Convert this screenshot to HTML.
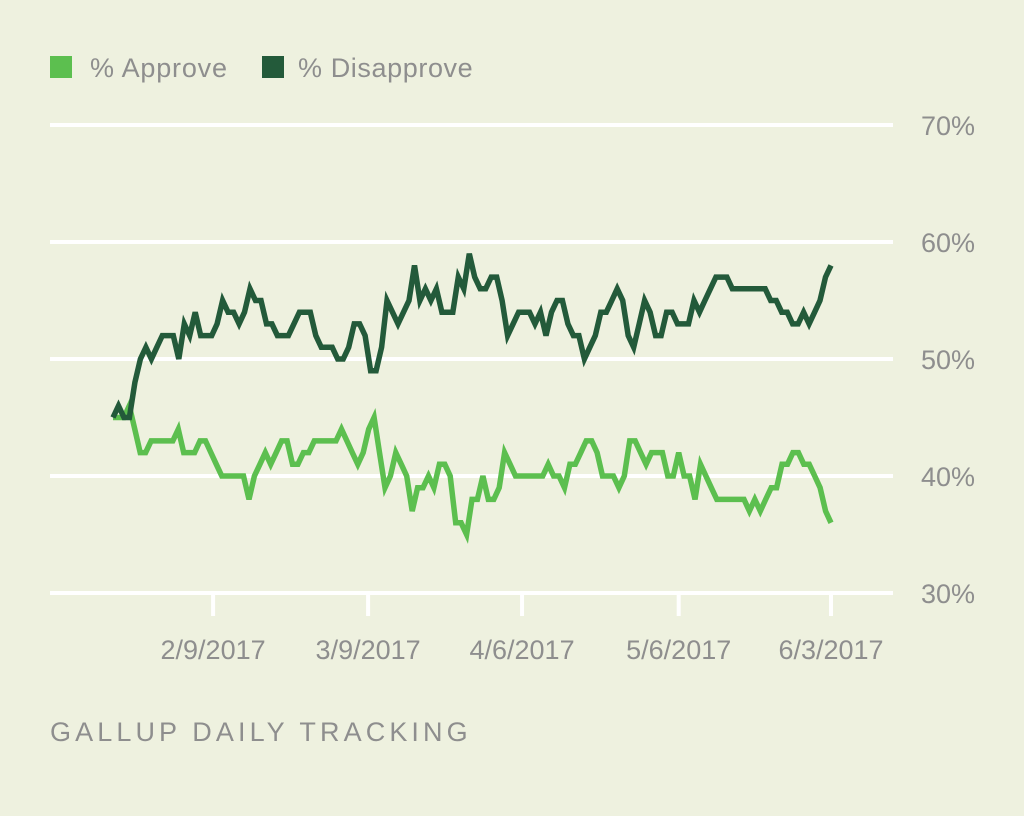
<!DOCTYPE html>
<html><head><meta charset="utf-8"><style>
body{margin:0;background:#eef1df;width:1024px;height:811px;overflow:hidden;font-family:"Liberation Sans",sans-serif}
</style></head><body>
<svg width="1024" height="811" xmlns="http://www.w3.org/2000/svg">
<rect width="1024" height="811" fill="#eef1df"/>
<g>
<rect x="50" y="56" width="22" height="22" fill="#5cbf4f"/>
<text x="90" y="77" font-size="27" fill="#8e8e8e" letter-spacing="0.8">% Approve</text>
<rect x="262" y="56" width="22" height="22" fill="#235a3a"/>
<text x="298" y="77" font-size="27" fill="#8e8e8e" letter-spacing="0.6">% Disapprove</text>
</g>
<g id="grid"></g>
<g id="lines"></g>
<text x="50" y="741" font-size="27" fill="#8e8e8e" letter-spacing="4.1">GALLUP DAILY TRACKING</text>
</svg>
<script>
const yTicks=[30,40,50,60,70];
const xTickLabels=["2/9/2017","3/9/2017","4/6/2017","5/6/2017","6/3/2017"];
const xTickIdx=[18.4,46.9,75.2,104,132];
const disapprove=[45,46,45,45,48,50,51,50,51,52,52,52,50,53,52,54,52,52,52,53,55,54,54,53,54,56,55,55,53,53,52,52,52,53,54,54,54,52,51,51,51,50,50,51,53,53,52,49,49,51,55,54,53,54,55,58,55,56,55,56,54,54,54,57,56,59,57,56,56,57,57,55,52,53,54,54,54,53,54,52,54,55,55,53,52,52,50,51,52,54,54,55,56,55,52,51,53,55,54,52,52,54,54,53,53,53,55,54,55,56,57,57,57,56,56,56,56,56,56,56,55,55,54,54,53,53,54,53,54,55,57,58];
const approve=[45,45,45,46,44,42,42,43,43,43,43,43,44,42,42,42,43,43,42,41,40,40,40,40,40,38,40,41,42,41,42,43,43,41,41,42,42,43,43,43,43,43,44,43,42,41,42,44,45,42,39,40,42,41,40,37,39,39,40,39,41,41,40,36,36,35,38,38,40,38,38,39,42,41,40,40,40,40,40,40,41,40,40,39,41,41,42,43,43,42,40,40,40,39,40,43,43,42,41,42,42,42,40,40,42,40,40,38,41,40,39,38,38,38,38,38,38,37,38,37,38,39,39,41,41,42,42,41,41,40,39,37,36];
const NS="http://www.w3.org/2000/svg";
const y=v=>593-(v-30)*11.7;
const x0=113,x1=831,nDays=132;
const x=i=>x0+(x1-x0)*i/nDays;
const grid=document.getElementById('grid'),lines=document.getElementById('lines');
yTicks.forEach(t=>{
 const l=document.createElementNS(NS,'line');
 
 
 l.setAttribute('x1',50);l.setAttribute('x2',893);l.setAttribute('y1',y(t));l.setAttribute('y2',y(t));
 l.setAttribute('stroke','#fff');l.setAttribute('stroke-width',4);grid.appendChild(l);
 const tx=document.createElementNS(NS,'text');
 
 
 tx.setAttribute('x',921);tx.setAttribute('y',y(t)+10);tx.setAttribute('font-size',27);tx.setAttribute('fill','#8e8e8e');
 tx.textContent=t+'%';grid.appendChild(tx);
});
xTickIdx.forEach((d,k)=>{
 const l=document.createElementNS(NS,'line');
 
 
 l.setAttribute('x1',x(d));l.setAttribute('x2',x(d));l.setAttribute('y1',593);l.setAttribute('y2',616);
 l.setAttribute('stroke','#fff');l.setAttribute('stroke-width',4);grid.appendChild(l);
 const tx=document.createElementNS(NS,'text');
 
 
 tx.setAttribute('x',x(d));tx.setAttribute('y',659);tx.setAttribute('font-size',27);tx.setAttribute('fill','#8e8e8e');tx.setAttribute('text-anchor','middle');
 tx.textContent=xTickLabels[k];grid.appendChild(tx);
});
function drawLine(data,color,name){
 const sx=i=>x0+(x1-x0)*i/(data.length-1);
 const p=document.createElementNS(NS,'polyline');
 
 
 p.setAttribute('points',data.map((v,i)=>sx(i).toFixed(1)+','+y(v).toFixed(1)).join(' '));
 p.setAttribute('fill','none');p.setAttribute('stroke',color);p.setAttribute('stroke-width',5.5);p.setAttribute('stroke-linejoin','miter');
 lines.appendChild(p);
}
drawLine(approve,'#5cbf4f','approve-line');
drawLine(disapprove,'#235a3a','disapprove-line');
</script>
</body></html>
